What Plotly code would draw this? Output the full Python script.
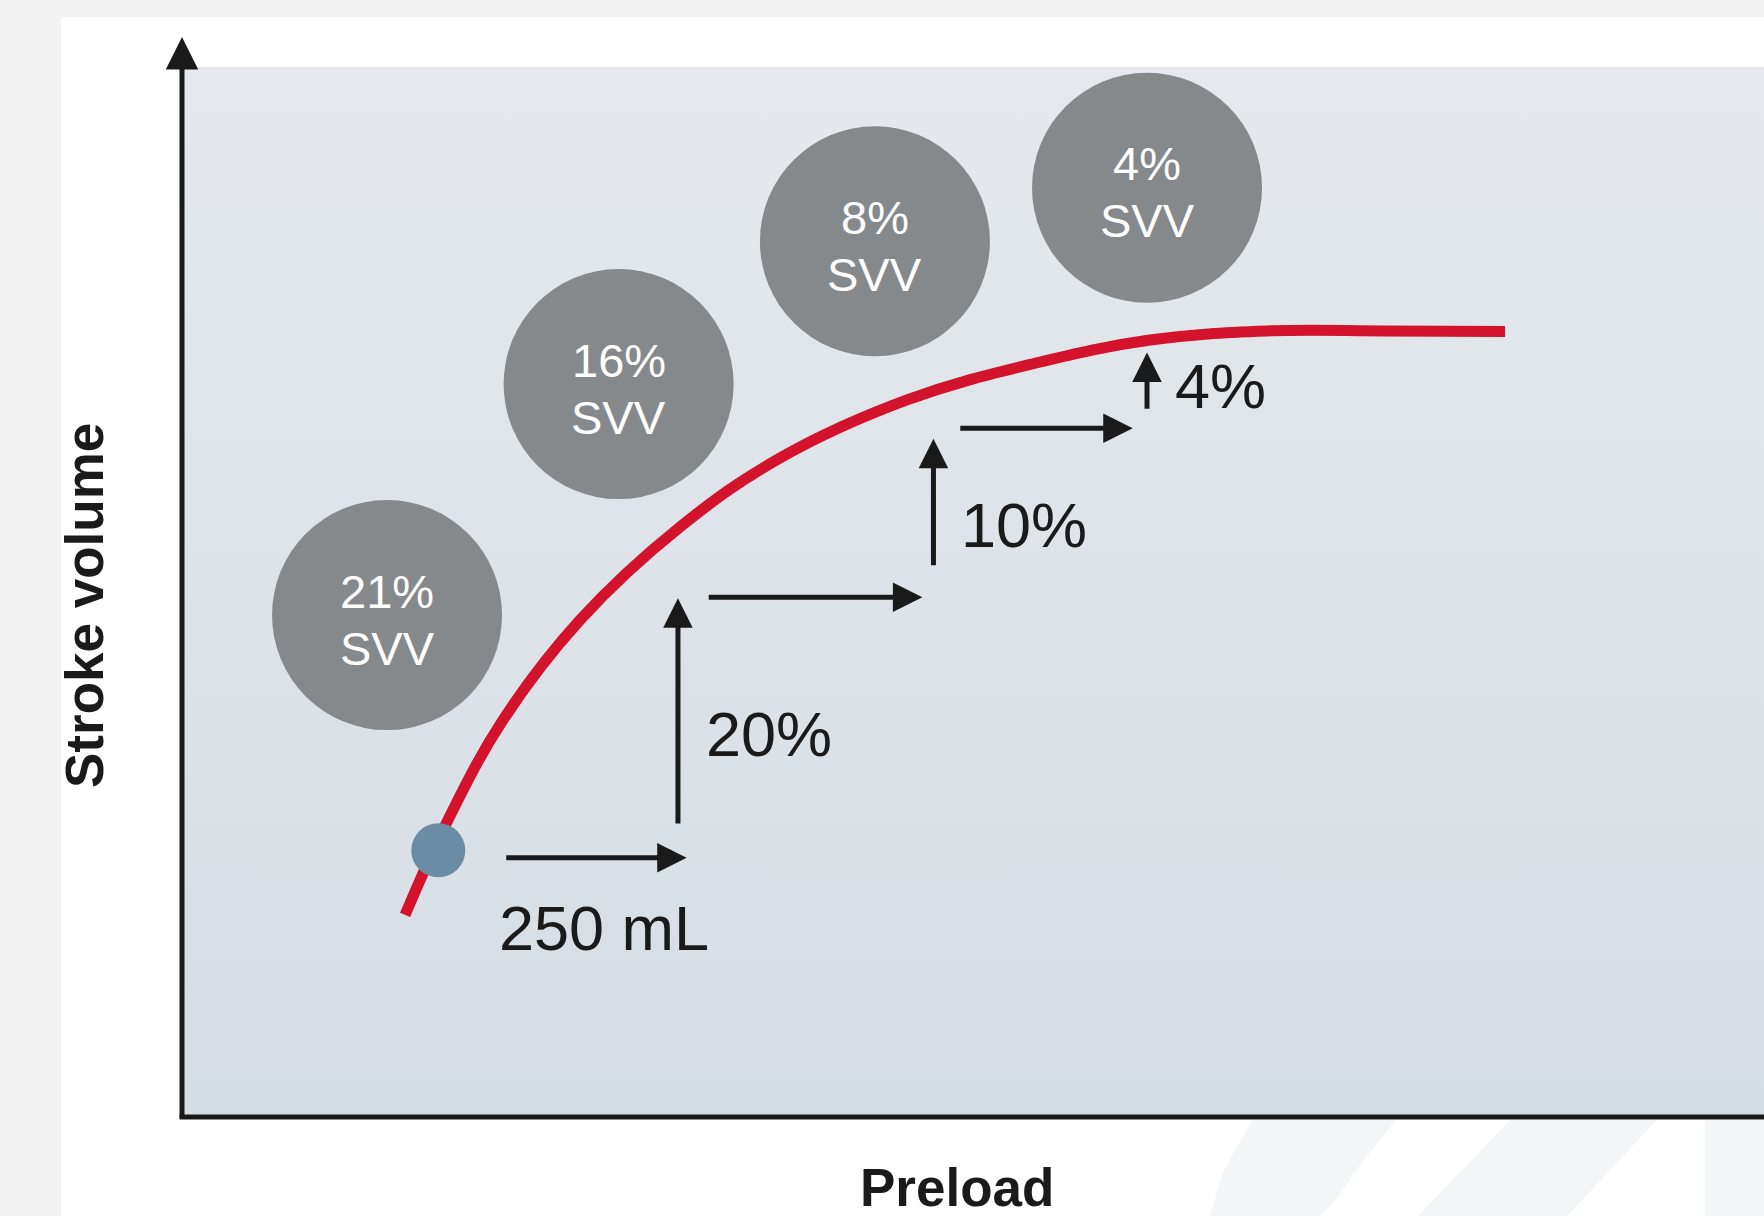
import plotly.graph_objects as go

# Frank-Starling relationship (arbitrary units, both axes span 0-100)
preload = [14.10, 16.75, 20.29, 25.16, 31.48, 37.80, 45.83, 53.98, 61.19,
           68.58, 76.11, 83.63]
stroke_volume = [19.24, 28.10, 37.81, 47.33, 56.19, 62.76, 68.29, 71.81, 74.00,
                 74.86, 74.86, 74.81]

# starting operating point on the curve
start_preload = [16.2]
start_sv = [25.4]

# stroke volume variation at successive points on the curve
svv_labels = ["21%", "16%", "8%", "4%"]
svv_preload = [12.96, 27.6, 43.8, 61.0]
svv_sv = [47.8, 69.8, 83.4, 88.5]

# 250 mL fluid challenges (horizontal steps)
bolus_label = "250 mL"
bolus_from = [20.4, 33.2, 49.1]
bolus_to = [31.9, 46.8, 60.1]
bolus_sv = [24.7, 49.5, 65.6]

# resulting stroke volume rises (vertical steps)
rise_labels = ["20%", "10%", "4%"]
rise_preload = [31.35, 47.5, 61.0]
rise_from = [27.8, 52.4, 67.3]
rise_to = [49.4, 64.6, 72.8]

axis_titles = ["Preload", "Stroke volume"]

# ---- page geometry -------------------------------------------------------
W, H = 1764, 1216
L, T, B = 182, 67, 99
PW, PH = W - L, H - T - B

INK = "#1a1a1a"
RED = "#d3122c"
GREY = "#86898c"
DOT = "#6b8ca5"
FONT = "Liberation Sans, Arial, sans-serif"


def px(xp):
    return (xp - L) / PW


def py(yp):
    return (H - B - yp) / PH


fig = go.Figure()

# plot-area background with a soft vertical gradient
fig.add_trace(go.Scatter(
    x=[0, 100, 100, 0, 0], y=[0, 0, 100, 100, 0],
    mode="lines", line=dict(width=0), fill="toself",
    fillgradient=dict(type="vertical",
                      colorscale=[[0, "#d5dde4"], [1, "#e5e9ed"]]),
    hoverinfo="skip", showlegend=False,
))

# SVV bubbles
fig.add_trace(go.Scatter(
    x=svv_preload, y=svv_sv, mode="markers",
    marker=dict(size=230, color=GREY, line=dict(width=0)),
    hoverinfo="skip", showlegend=False,
))

# the curve
fig.add_trace(go.Scatter(
    x=preload, y=stroke_volume, mode="lines",
    line=dict(color=RED, width=11, shape="spline", smoothing=1.1),
    hoverinfo="skip", showlegend=False,
))

# operating point
fig.add_trace(go.Scatter(
    x=start_preload, y=start_sv, mode="markers",
    marker=dict(size=54, color=DOT, line=dict(width=0)),
    hoverinfo="skip", showlegend=False,
))

annotations = []

# bubble captions
bubble_font = dict(family=FONT, size=47, color="white")
for lab, x, y in zip(svv_labels, svv_preload, svv_sv):
    annotations.append(dict(x=x, y=y, xref="x", yref="y", text=lab,
                            showarrow=False, font=bubble_font,
                            xanchor="center", yanchor="middle", yshift=24))
    annotations.append(dict(x=x, y=y, xref="x", yref="y", text="SVV",
                            showarrow=False, font=bubble_font,
                            xanchor="center", yanchor="middle", yshift=-33))


def data_arrow(x0, y0, x1, y1):
    return dict(x=x1, y=y1, ax=x0, ay=y0,
                xref="x", yref="y", axref="x", ayref="y",
                text="", showarrow=True, arrowhead=2,
                arrowwidth=5, arrowsize=1.18, arrowcolor=INK, standoff=0)


for x0, x1, y in zip(bolus_from, bolus_to, bolus_sv):
    annotations.append(data_arrow(x0, y, x1, y))
for x, y0, y1 in zip(rise_preload, rise_from, rise_to):
    annotations.append(data_arrow(x, y0, x, y1))

big = dict(family=FONT, size=63, color=INK)
annotations.append(dict(
    x=(bolus_from[0] + bolus_to[0]) / 2, y=bolus_sv[0],
    xref="x", yref="y", text=bolus_label, showarrow=False,
    font=big, xanchor="center", yanchor="middle", yshift=-70, xshift=8,
))
label_shift = [-22, -22, -5]
for lab, x, y0, y1, ys in zip(rise_labels, rise_preload, rise_from, rise_to,
                              label_shift):
    annotations.append(dict(
        x=x, y=(y0 + y1) / 2, xref="x", yref="y", text=lab,
        showarrow=False, font=big, xanchor="left", yanchor="middle",
        xshift=26, yshift=ys,
    ))

# vertical axis drawn as an arrow
annotations.append(dict(
    x=0, y=py(37), xref="paper", yref="paper", ax=0, ay=(H - B + 2.5) - 37,
    text="", showarrow=True, arrowhead=2, arrowwidth=5, arrowsize=1.3,
    arrowcolor=INK, standoff=0,
))

# axis titles
title_font = dict(family=FONT, size=53, color=INK)
annotations.append(dict(
    x=px(957), y=py(1187), xref="paper", yref="paper",
    text=f"<b>{axis_titles[0]}</b>",
    showarrow=False, font=title_font, xanchor="center", yanchor="middle",
))
annotations.append(dict(
    x=px(84), y=py(606), xref="paper", yref="paper",
    text=f"<b>{axis_titles[1]}</b>",
    showarrow=False, font=title_font, xanchor="center", yanchor="middle",
    textangle=-90,
))

# white card behind the chart plus faint decorative stripes
shapes = [
    dict(type="rect", xref="paper", yref="paper", layer="below",
         x0=px(61), x1=px(W + 20), y0=py(H + 20), y1=py(17),
         fillcolor="white", line=dict(width=0)),
]


def path(points):
    return "M " + " L ".join(f"{px(a):.5f},{py(b):.5f}" for a, b in points) + " Z"


stripe_color = "#f4f5f7"
shapes.append(dict(type="path", xref="paper", yref="paper", layer="below",
                   path=path([(1253, 1120), (1396, 1120), (1360, 1165),
                              (1335, 1200), (1321, 1216), (1210, 1216),
                              (1222, 1175), (1236, 1148)]),
                   fillcolor=stripe_color, line=dict(width=0)))
shapes.append(dict(type="path", xref="paper", yref="paper", layer="below",
                   path=path([(1510, 1120), (1657, 1120), (1567, 1216),
                              (1418, 1216)]),
                   fillcolor=stripe_color, line=dict(width=0)))
shapes.append(dict(type="rect", xref="paper", yref="paper", layer="below",
                   x0=px(1705), x1=px(W + 10), y0=py(H + 10), y1=py(1120),
                   fillcolor=stripe_color, line=dict(width=0)))

# horizontal axis line running off the right edge
shapes.append(dict(type="line", xref="paper", yref="paper", layer="above",
                   x0=px(L - 2.5), x1=px(W + 10), y0=0, y1=0,
                   line=dict(color=INK, width=5)))

fig.update_layout(
    width=W, height=H, autosize=False,
    margin=dict(l=L, r=0, t=T, b=B, pad=0),
    paper_bgcolor="#f2f2f2", plot_bgcolor="rgba(0,0,0,0)",
    xaxis=dict(range=[0, 100], visible=False, fixedrange=True),
    yaxis=dict(range=[0, 100], visible=False, fixedrange=True),
    annotations=annotations, shapes=shapes, showlegend=False,
    font=dict(family=FONT),
)

fig.write_html("out.html", config={"displayModeBar": False})
